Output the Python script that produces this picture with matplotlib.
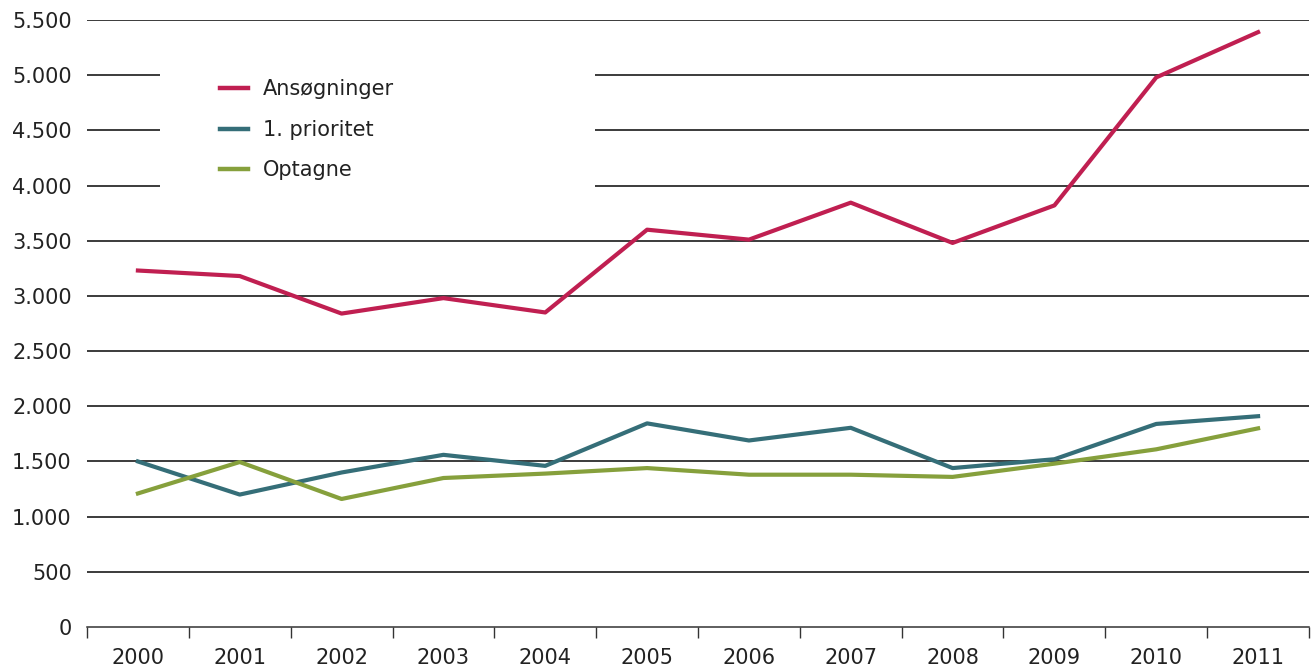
import matplotlib.pyplot as plt
from matplotlib.patches import Rectangle
import numpy as np

years = ["2000", "2001", "2002", "2003", "2004", "2005",
         "2006", "2007", "2008", "2009", "2010", "2011"]
ansoegninger = [3230, 3180, 2840, 2980, 2850, 3600, 3510, 3845, 3480, 3820, 4980, 5390]
prioritet = [1500, 1200, 1400, 1560, 1460, 1845, 1690, 1805, 1440, 1520, 1840, 1910]
optagne = [1210, 1495, 1160, 1350, 1390, 1440, 1380, 1380, 1360, 1480, 1610, 1800]

y_ticks = list(range(0, 5501, 500))
y_labels = ["0", "500", "1.000", "1.500", "2.000", "2.500", "3.000",
            "3.500", "4.000", "4.500", "5.000", "5.500"]

fig = plt.figure(figsize=(13.11, 6.67), dpi=100)
ax = fig.add_axes([87 / 1311, 1 - 627 / 667, 1222 / 1311, 607 / 667])

x = np.arange(len(years))
ax.plot(x, ansoegninger, color="#c01f51", lw=3, label="Ansøgninger", zorder=3)
ax.plot(x, prioritet, color="#356e78", lw=3, label="1. prioritet", zorder=3)
ax.plot(x, optagne, color="#86a03c", lw=3, label="Optagne", zorder=3)

ax.set_xlim(-0.5, len(years) - 0.5)
ax.set_ylim(0, 5500)

for v in y_ticks[1:]:
    ax.axhline(v, color="#1a1a1a", lw=1.2, zorder=1)

# white block behind the legend, hides the gridlines there
ax.add_patch(Rectangle((0.06, 0.712), 0.356, 0.226, transform=ax.transAxes,
                       facecolor="white", edgecolor="none", zorder=2))

leg = ax.legend(loc="upper left", bbox_to_anchor=(0.109, 0.902), frameon=False,
                fontsize=15, handlelength=1.35, handletextpad=0.7,
                labelspacing=0.98, borderpad=0, borderaxespad=0)
for line in leg.get_lines():
    line.set_linewidth(3.2)
for t in leg.get_texts():
    t.set_color("#222222")

ax.set_yticks(y_ticks)
ax.set_yticklabels(y_labels)
ax.set_xticks(x)
ax.set_xticklabels(years)
ax.set_xticks(np.arange(-0.5, len(years), 1), minor=True)

ax.tick_params(axis="y", length=0, pad=11, labelsize=15, labelcolor="#222222")
ax.tick_params(axis="x", which="major", length=0, pad=15, labelsize=15, labelcolor="#222222")
ax.tick_params(axis="x", which="minor", length=8, width=1, color="#333333")

for side in ["top", "right", "left"]:
    ax.spines[side].set_visible(False)
ax.spines["bottom"].set_color("#333333")
ax.spines["bottom"].set_linewidth(1.1)

fig.savefig("out.png", dpi=100)
